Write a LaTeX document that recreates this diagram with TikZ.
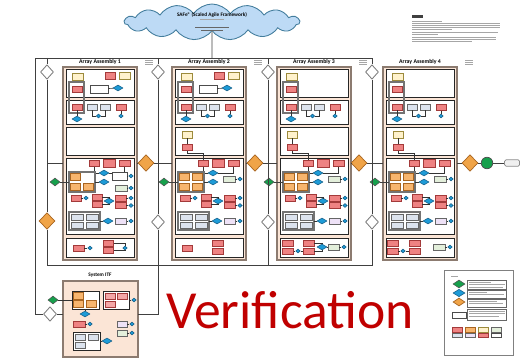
\documentclass[tikz,border=0pt]{standalone}
\usepackage{fontspec}
\setmainfont{Carlito}
\usetikzlibrary{shapes.geometric,shapes.symbols}

\definecolor{peachf}{HTML}{FBE5D6}
\definecolor{peachb}{HTML}{8C7B70}
\definecolor{redf}{HTML}{EE8282}
\definecolor{redb}{HTML}{A33A3A}
\definecolor{yelf}{HTML}{FFF2CC}
\definecolor{yelb}{HTML}{9C8A3C}
\definecolor{oraf}{HTML}{F7B56E}
\definecolor{orab}{HTML}{A86420}
\definecolor{gryf}{HTML}{DCE3EE}
\definecolor{lavf}{HTML}{EEE2F7}
\definecolor{lgrf}{HTML}{E3EFDB}
\definecolor{bluf}{HTML}{1E9BD7}
\definecolor{blub}{HTML}{145C85}
\definecolor{grnf}{HTML}{16A04C}
\definecolor{odia}{HTML}{F0A448}
\definecolor{cloudf}{HTML}{BDDAF5}
\definecolor{verired}{HTML}{C00000}

\tikzset{
  lane/.style={draw=black!75, line width=0.45pt},
  wire/.style={draw=black!80, line width=0.35pt},
  peach/.style={draw=peachb, fill=peachf, line width=0.7pt},
  panel/.style={draw=black!85, fill=white, line width=0.5pt},
  frame/.style={draw=black!55, line width=0.8pt},
  box/.style={rectangle, inner sep=0pt, line width=0.35pt, minimum width=2mm, minimum height=1.2mm},
  rbox/.style={box, draw=redb, fill=redf},
  ybox/.style={box, draw=yelb, fill=yelf},
  obox/.style={box, draw=orab, fill=oraf},
  gbox/.style={box, draw=black!60, fill=gryf},
  lbox/.style={box, draw=black!60, fill=lavf},
  lgbox/.style={box, draw=black!60, fill=lgrf},
  wbox/.style={box, draw=black!70, fill=white},
  bdia/.style={diamond, draw=blub, fill=bluf, inner sep=0pt, minimum width=2mm, minimum height=1.2mm, line width=0.3pt},
  sdia/.style={bdia, minimum width=0.9mm, minimum height=0.8mm},
  gdia/.style={diamond, draw=black!70, fill=grnf, inner sep=0pt, minimum width=2mm, minimum height=1.6mm, line width=0.3pt},
  wdia/.style={diamond, draw=black!50, fill=white, inner sep=0pt, minimum width=2.6mm, minimum height=2.9mm, line width=0.5pt},
  odiam/.style={diamond, draw=orab, fill=odia, inner sep=0pt, minimum width=3.2mm, minimum height=3.3mm, line width=0.4pt},
  heading/.style={font=\fontsize{3.3}{4}\selectfont\bfseries, inner sep=0pt},
  scrawl/.style={draw=black!35, line width=0.35pt},
  verif/.style={anchor=base, font=\fontsize{30.5}{36}\selectfont, text=verired, inner sep=0pt},
}

% one assembly column, #1 name, #2 left edge, #3 title
\newcommand{\assembly}[3]{%
  \begin{scope}[shift={(#2,67)}]
    \draw[peach] (0,0) rectangle (74,193);
    \node[heading] (#1title) at (37,-5) {#3};
    \foreach \ya/\yb in {2/30, 33/57, 60/88, 91/167, 171/190}
      \draw[panel] (3,\ya) rectangle (71,\yb);
    \foreach \y in {-7,-5,-3}
      \draw[scrawl] (82,\y) -- ++(8,0);
    \coordinate (#1in) at (0,96);
    \coordinate (#1out) at (74,96);
    \coordinate (#1of) at (6,115);
    \coordinate (#1ofr) at (32,115);
    % backlog
    \node[ybox, minimum width=2.2mm, minimum height=1.4mm] (#1y1) at (14.5,9.5) {};
    \node[rbox] (#1r1) at (14,22) {};
    \draw[frame] (6,15) rectangle (21,46);
    \node[rbox] (#1r2) at (14,40) {};
    \node[gbox] (#1g1) at (29.5,40) {};
    \node[gbox] (#1g2) at (42,40) {};
    \node[rbox] (#1r3) at (58,40.5) {};
    \node[bdia] (#1d1) at (14,52) {};
    \node[sdia] (#1d2) at (35.5,49) {};
    \node[sdia] (#1d3) at (58,49) {};
    \draw[wire] (#1r2) -- (#1d1);
    \draw[wire] (#1g1) |- (#1d2) -| (#1g2);
    \draw[wire] (#1r3) -- (#1d3);
    % build and test
    \node[rbox] (#1t1) at (31,96.5) {};
    \node[rbox, minimum width=2.4mm, minimum height=1.6mm] (#1t2) at (46,96) {};
    \node[rbox, minimum width=2.2mm] (#1t3) at (61.5,96.5) {};
    \node[bdia] (#1d4) at (41,106) {};
    \draw[wire] (#1t1) |- (#1d4) -| (#1t3);
    \draw[frame] (6,105) rectangle (32,125);
    \node[obox, minimum height=1.4mm] (#1o1) at (12.5,110) {};
    \node[obox, minimum height=1.4mm] (#1o2) at (12.5,119.5) {};
    \node[obox, minimum height=1.4mm] (#1o3) at (25.5,119.5) {};
    \node[bdia] (#1d5) at (41,115) {};
    \draw[wire] (#1ofr) -- (#1d5);
    \node[rbox] (#1r4) at (13,131) {};
    \node[sdia] (#1s1) at (23,131) {};
    \node[rbox] (#1r5) at (34,130.5) {};
    \node[rbox] (#1r6) at (34,137.5) {};
    \node[bdia] (#1d6) at (46,134) {};
    \node[rbox, minimum width=2.2mm] (#1r7) at (57.5,131) {};
    \node[rbox, minimum width=2.2mm] (#1r8) at (57.5,138.5) {};
    \node[sdia] (#1s2) at (68,131) {};
    \node[sdia] (#1s3) at (68,138.5) {};
    \draw[wire] (#1r4) -- (#1s1);
    \draw[wire] (#1r5.east) -| (#1d6) |- (#1r6.east);
    \draw[wire] (#1r7) -- (#1s2);
    \draw[wire] (#1r8) -- (#1s3);
    \draw[frame] (6,145) rectangle (37,163);
    \node[gbox, minimum width=2.4mm] (#1g3) at (14,150) {};
    \node[gbox, minimum width=2.4mm] (#1g4) at (29,150) {};
    \node[gbox, minimum width=2.4mm] (#1g5) at (14,158) {};
    \node[gbox, minimum width=2.4mm] (#1g6) at (29,158) {};
    \coordinate (#1gf) at (37,154);
    \node[bdia] (#1d7) at (45,154) {};
    \node[lbox, minimum width=2.2mm] (#1v1) at (58,154) {};
    \node[sdia] (#1s4) at (68,154) {};
    \draw[wire] (#1gf) -- (#1d7);
    \draw[wire] (#1v1) -- (#1s4);
  \end{scope}}

% extra backlog items
\newcommand{\backlogrow}[1]{%
  \node[rbox, minimum height=1.4mm] (#1r0) at (47,8.5) {};
  \node[ybox, minimum width=2.2mm, minimum height=1.4mm] (#1y0) at (61.5,8.5) {};
  \node[wbox, minimum width=3.6mm, minimum height=1.6mm] (#1w0) at (36,22) {};
  \node[bdia] (#1d0) at (55,21) {};
  \draw[wire] (#1w0) -- (#1d0);}

% design panel and later build items
\newcommand{\laterpanels}[1]{%
  \node[ybox, minimum height=1.4mm] (#1c1) at (15,67.5) {};
  \node[rbox] (#1c2) at (15,80.5) {};
  \coordinate (#1bend) at (31,86);
  \draw[wire] (#1c1) -- (#1c2);
  \draw[wire] (#1c2) |- (#1bend) -- (#1t1);
  \node[obox, minimum height=1.4mm] (#1o4) at (25.5,110) {};
  \node[lgbox, minimum width=2.4mm] (#1lg) at (57,112) {};
  \node[sdia] (#1s9) at (68,112) {};
  \draw[wire] (#1lg) -- (#1s9);}

\begin{document}
\begin{tikzpicture}[x=0.02cm, y=-0.02cm]
\useasboundingbox (0,0) rectangle (520,358);

% framework
\node[cloud, cloud puffs=15, cloud puff arc=110, draw=blub!80, fill=cloudf, line width=0.5pt,
  minimum width=3.5cm, minimum height=0.72cm, inner sep=0pt] (safe) at (212,22) {};
\node[font=\fontsize{3}{3.6}\selectfont\bfseries, inner sep=0pt] (safetitle) at (212,15) {SAFe® (Scaled Agile Framework)};
\draw[scrawl] (200,19) -- (224,19);
\draw[scrawl, black!60] (195,27) -- (229,27);
\draw[scrawl, black!60] (201,30) -- (223,30);

% notes
\fill[black!75] (412,15.5) rectangle (423,18);
\foreach \y/\l in {21/30, 23/88, 25/88, 27/88, 29/40, 32/86, 34/26, 37/84, 39/84, 41/60}
  \draw[scrawl] (412,\y) -- ++(\l,0);

% columns
\assembly{aa1}{63}{Array Assembly 1}
\assembly{aa2}{172}{Array Assembly 2}
\assembly{aa3}{277}{Array Assembly 3}
\assembly{aa4}{383}{Array Assembly 4}

\begin{scope}[shift={(63,67)}]
  \backlogrow{aa1}
  \node[wbox, minimum width=3mm, minimum height=1.6mm] (aa1w1) at (56.5,109) {};
  \node[sdia] (aa1s8) at (68,109) {};
  \node[lgbox, minimum width=2.4mm] (aa1lg) at (58,121) {};
  \node[sdia] (aa1s9) at (68,121) {};
  \draw[wire] (aa1w1) -- (aa1s8);
  \draw[wire] (aa1lg) -- (aa1s9);
  \node[rbox, minimum width=2.2mm] (aa1e1) at (15.5,181) {};
  \node[sdia] (aa1e2) at (27,181) {};
  \node[rbox] (aa1e3) at (45.5,176) {};
  \node[rbox] (aa1e4) at (45.5,183) {};
  \node[sdia] (aa1e5) at (62,181) {};
  \draw[wire] (aa1e1) -- (aa1e2);
  \draw[wire] (aa1e3.east) -| (aa1e5) |- (aa1e4.east);
\end{scope}

\begin{scope}[shift={(172,67)}]
  \backlogrow{aa2}
  \laterpanels{aa2}
  \node[rbox] (aa2e1) at (15,181) {};
  \node[rbox, minimum width=2.2mm] (aa2e3) at (45.5,176) {};
  \node[rbox, minimum width=2.2mm] (aa2e4) at (45.5,184) {};
\end{scope}

\begin{scope}[shift={(277,67)}]
  \laterpanels{aa3}
  \node[rbox, minimum width=2.2mm] (aa3e1) at (11,176) {};
  \node[rbox, minimum width=2.2mm] (aa3e2) at (11,184) {};
  \node[sdia] (aa3e3) at (21,184) {};
  \node[rbox, minimum width=2.2mm] (aa3e4) at (31.5,176) {};
  \node[rbox, minimum width=2.2mm] (aa3e5) at (31.5,184) {};
  \node[bdia] (aa3e6) at (45,180) {};
  \node[lgbox, minimum width=2.2mm] (aa3e7) at (56.5,180) {};
  \node[sdia] (aa3e8) at (67,180) {};
  \draw[wire] (aa3e2) -- (aa3e3) -- (aa3e5);
  \draw[wire] (aa3e4.east) -| (aa3e6) |- (aa3e5.east);
  \draw[wire] (aa3e6) -- (aa3e7) -- (aa3e8);
\end{scope}

\begin{scope}[shift={(383,67)}]
  \laterpanels{aa4}
  \node[rbox, minimum width=2.2mm] (aa4e1) at (9.5,176) {};
  \node[rbox, minimum width=2.2mm] (aa4e2) at (9.5,184) {};
  \node[sdia] (aa4e3) at (20,184) {};
  \node[rbox, minimum width=2.2mm] (aa4e4) at (31.5,176) {};
  \node[rbox, minimum width=2.2mm] (aa4e5) at (31.5,184) {};
  \node[lgbox, minimum width=2.4mm] (aa4e7) at (56,180) {};
  \node[sdia] (aa4e8) at (67,180) {};
  \draw[wire] (aa4e2) -- (aa4e3) -- (aa4e5);
  \draw[wire] (aa4e7) -- (aa4e8);
\end{scope}

% gates
\coordinate (ul) at (35,58);
\coordinate (ur) at (372,58);
\coordinate (sw) at (35,314);
\coordinate (bl) at (47,265);
\coordinate (br) at (372,265);
\node[wdia] (w0) at (47,72) {};
\node[wdia] (w1) at (158,72) {};
\node[wdia] (w2) at (268,72) {};
\node[wdia] (w3) at (372,72) {};
\node[wdia] (lw1) at (158,222) {};
\node[wdia] (lw2) at (268,222) {};
\node[wdia] (lw3) at (372,222) {};
\node[odiam] (ol) at (47,221) {};
\node[odiam] (om1) at (146,163) {};
\node[odiam] (om2) at (255,163) {};
\node[odiam] (om3) at (359,163) {};
\node[odiam] (om4) at (470,163) {};
\node[gdia] (gd1) at (55,182) {};
\node[gdia] (gd2) at (164,182) {};
\node[gdia] (gd3) at (269,182) {};
\node[gdia] (gd4) at (375,182) {};
\node[circle, draw=black!70, fill=grnf, minimum size=2.3mm, inner sep=0pt] (done) at (487,163) {};
\node[rectangle, draw=black!45, fill=black!6, rounded corners=0.3mm, minimum width=3mm,
  minimum height=1.3mm, inner sep=0pt] (release) at (512,163) {};

\draw[lane] (safe) -- (safe |- ul);
\draw[lane] (sw) |- (ur) -- (w3);
\draw[lane] (w0 |- ul) -- (w0) -- (ol) -- (bl) -- (br) -- (lw3) -- (w3);
\draw[lane] (w1 |- ul) -- (w1) -- (lw1);
\draw[lane] (w2 |- ul) -- (w2) -- (lw2) -- (lw2 |- bl);
\draw[lane] (aa1in -| bl) -- (aa1in);
\draw[lane] (aa1out) -- (om1) -- (aa2in);
\draw[lane] (aa2out) -- (om2) -- (aa3in);
\draw[lane] (aa3out) -- (om3) -- (aa4in);
\draw[lane] (aa4out) -- (om4) -- (done) -- (release);
\draw[lane] (gd1) -- (aa1of);
\draw[lane] (gd2) -- (aa2of);
\draw[lane] (gd3) -- (aa3of);
\draw[lane] (gd4) -- (aa4of);

% system ITF
\draw[peach] (63,281) rectangle (138,357);
\node[heading, font=\fontsize{3}{3.6}\selectfont\bfseries] (itftitle) at (100,275) {System ITF};
\coordinate (itfw) at (63,314);
\coordinate (itfe) at (138,314);
\node[wdia] (wi) at (50,314) {};
\node[gdia] (gi) at (53,300) {};
\draw[lane] (sw) -- (wi) -- (itfw);
\draw[lane] (lw1) |- (itfe);
\draw[panel] (72,291) rectangle (99,309);
\draw[panel] (103,291) rectangle (129,309);
\node[obox, minimum height=1.3mm] (io1) at (78.5,296) {};
\node[obox, minimum height=1.3mm] (io2) at (78.5,304) {};
\node[obox, minimum height=1.3mm] (io3) at (91,304) {};
\node[rbox, fill=redf!70] (ir1) at (110,296) {};
\node[rbox, fill=redf!70] (ir2) at (122,296) {};
\node[rbox, fill=redf!70] (ir3) at (110,304) {};
\coordinate (iof) at (72,300);
\coordinate (irf) at (129,300);
\coordinate (iob) at (85,309);
\node[sdia] (is1) at (134,300) {};
\node[bdia] (id1) at (85,314) {};
\draw[wire] (gi) -- (iof);
\draw[wire] (irf) -- (is1);
\draw[wire] (iob) -- (id1);
\node[rbox, minimum width=2.4mm] (ir4) at (79,324) {};
\node[sdia] (is2) at (90,324) {};
\node[lbox] (iv1) at (122,324) {};
\node[sdia] (is3) at (132,324) {};
\node[lgbox] (ig1) at (122,333) {};
\node[sdia] (is4) at (132,333) {};
\draw[wire] (ir4) -- (is2);
\draw[wire] (iv1) -- (is3);
\draw[wire] (ig1) -- (is4);
\draw[panel] (73,332) rectangle (100,350);
\node[gbox] (ig2) at (80,337) {};
\node[gbox] (ig3) at (93,337) {};
\node[gbox] (ig4) at (80,345) {};
\coordinate (igf) at (100,341);
\node[bdia] (id2) at (107,341) {};
\draw[wire] (igf) -- (id2);

\node[verif] (verif) at (290,328) {Verification};

% legend
\draw[draw=black!50, line width=0.5pt] (444,270) rectangle (513,355);
\draw[scrawl] (451,276) -- (458,276);
\node[gdia, minimum width=2.4mm] (lg1) at (459,284) {};
\node[bdia, minimum width=2.4mm, minimum height=1.5mm] (lg2) at (459,293) {};
\node[odiam, minimum width=2.4mm, minimum height=1.6mm] (lg3) at (459,302) {};
\node[wbox, minimum width=2.8mm] (lg4) at (459,315) {};
\foreach \ya/\yb in {280/289, 290/298, 299/307, 309/320}
  \draw[wire, draw=black!60] (467,\ya) rectangle (506,\yb);
\foreach \y/\l in {282/22, 284.5/36, 287/34, 292/18, 294.5/35, 301/28, 303.5/34, 311/36, 313.5/36, 316/30}
  \draw[scrawl] (469,\y) -- ++(\l,0);
\node[rbox, minimum height=0.9mm] (sw1) at (457,330) {};
\node[obox, minimum height=0.9mm] (sw2) at (470,330) {};
\node[ybox, minimum height=0.9mm] (sw3) at (483,330) {};
\node[lgbox, minimum height=0.9mm] (sw4) at (496,330) {};
\node[gbox, minimum height=0.9mm] (sw5) at (457,335.5) {};
\node[lbox, minimum height=0.9mm] (sw6) at (470,335.5) {};
\node[rbox, minimum height=0.9mm] (sw7) at (483,335.5) {};
\node[wbox, minimum height=0.9mm] (sw8) at (496,335.5) {};
\end{tikzpicture}
\end{document}
